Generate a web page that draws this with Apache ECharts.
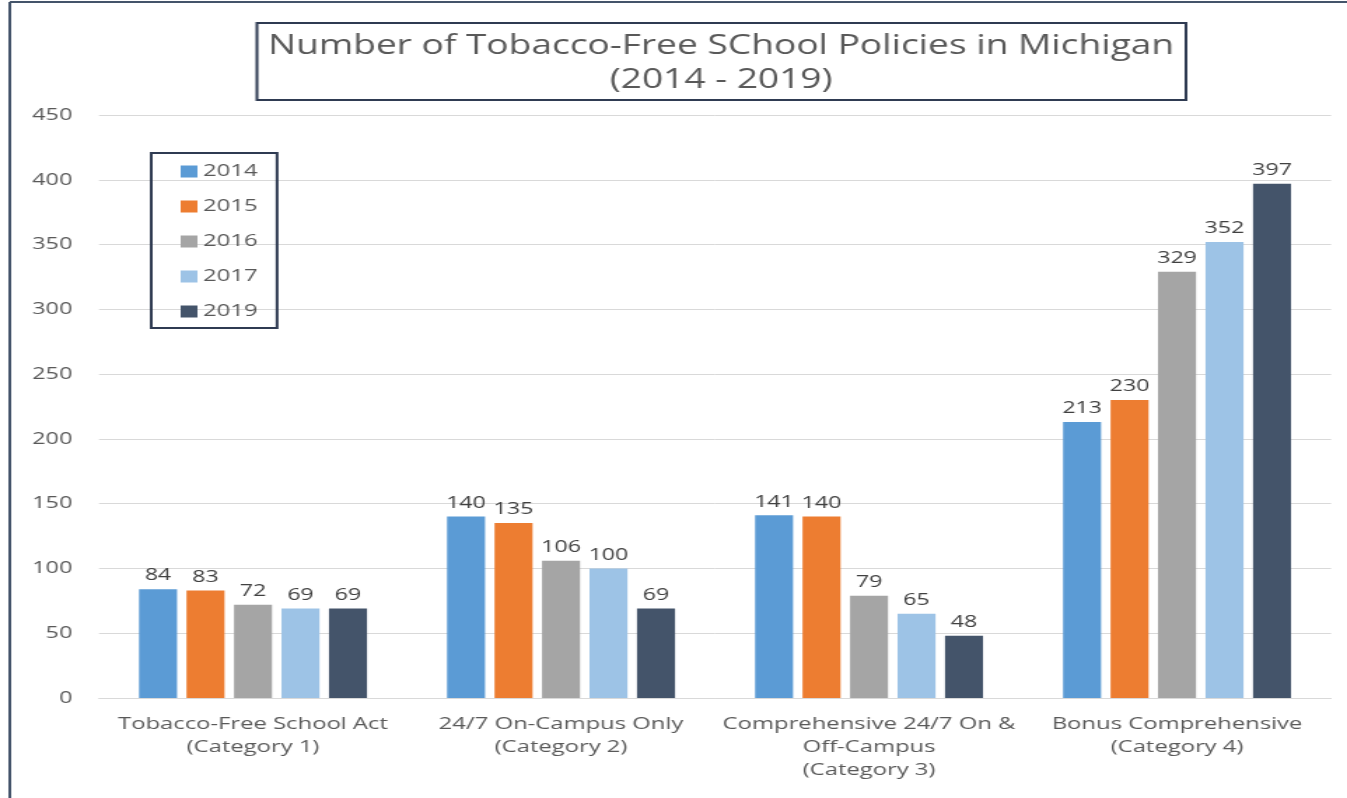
<!DOCTYPE html>
<html><head><meta charset="utf-8">
<script src="https://cdn.jsdelivr.net/npm/echarts@6/dist/echarts.min.js"></script>
<style>
html,body{margin:0;padding:0;background:#fff;overflow:hidden}
#wrap{width:1347px;height:798px;overflow:hidden}
#c{width:962px;height:798px;transform:scaleX(1.40021);transform-origin:0 0}
</style>
</head><body><div id="wrap"><div id="c"></div></div>
<script>
const categories = ['Tobacco-Free School Act\n(Category 1)', '24/7 On-Campus Only\n(Category 2)', 'Comprehensive 24/7 On &\nOff-Campus\n(Category 3)', 'Bonus Comprehensive\n(Category 4)'];
const years = ['2014', '2015', '2016', '2017', '2019'];
const v2014 = [84, 140, 141, 213];
const v2015 = [83, 135, 140, 230];
const v2016 = [72, 106, 79, 329];
const v2017 = [69, 100, 65, 352];
const v2019 = [69, 69, 48, 397];
const yTicks = [0, 50, 100, 150, 200, 250, 300, 350, 400, 450];
const colors = ['#5B9BD5', '#ED7D31', '#A5A5A5', '#9DC3E6', '#44546A'];
const seriesValues = [v2014, v2015, v2016, v2017, v2019];
const FONT = '"Open Sans", "Noto Sans", sans-serif';

const chart = echarts.init(document.getElementById('c'), null, {renderer: 'canvas'});
chart.setOption({
  animation: false,
  backgroundColor: '#fff',
  color: colors,
  graphic: [
    {type: 'line', shape: {x1: 7, y1: 2, x2: 962, y2: 2}, style: {stroke: '#44546A', lineWidth: 2}},
    {type: 'line', shape: {x1: 7, y1: 2, x2: 7, y2: 798}, style: {stroke: '#44546A', lineWidth: 2}},
    {type: 'rect', shape: {x: 183.5, y: 23, width: 663.5, height: 77}, style: {fill: 'none', stroke: '#2F3B52', lineWidth: 2}},
    {type: 'text', x: 515, y: 63, style: {text: 'Number of Tobacco-Free SChool Policies in Michigan\n(2014 - 2019)', font: '26.5px ' + FONT, fill: '#595959', align: 'center', verticalAlign: 'middle', lineHeight: 34}}
  ],
  legend: {
    orient: 'vertical', left: 108, top: 153,
    data: years,
    itemWidth: 12, itemHeight: 12, itemGap: 18,
    icon: 'rect',
    padding: [10, 14, 8, 21],
    borderColor: '#2F3B52', borderWidth: 2,
    textStyle: {fontFamily: FONT, fontSize: 17, color: '#595959', padding: [0, 0, 0, -1]}
  },
  grid: {left: 70.7, right: 11.4, top: 115, bottom: 100, containLabel: false},
  xAxis: {
    type: 'category', data: categories,
    axisLine: {lineStyle: {color: '#D9D9D9'}},
    axisTick: {show: false},
    axisLabel: {fontFamily: FONT, fontSize: 17, color: '#595959', lineHeight: 23, margin: 15, interval: 0}
  },
  yAxis: {
    type: 'value', min: 0, max: 450, interval: 50,
    axisLine: {show: false}, axisTick: {show: false},
    splitLine: {lineStyle: {color: '#D9D9D9'}},
    axisLabel: {fontFamily: FONT, fontSize: 16.7, color: '#595959', margin: 19,
      formatter: v => yTicks.includes(v) ? String(v) : ''}
  },
  series: years.map((y, i) => ({
    name: y, type: 'bar', data: seriesValues[i],
    barGap: '25%', barCategoryGap: '26%',
    itemStyle: {color: colors[i]},
    label: {show: true, position: 'top', distance: 5, fontFamily: FONT, fontSize: 16.5, color: '#404040'}
  }))
});
</script></body></html>
